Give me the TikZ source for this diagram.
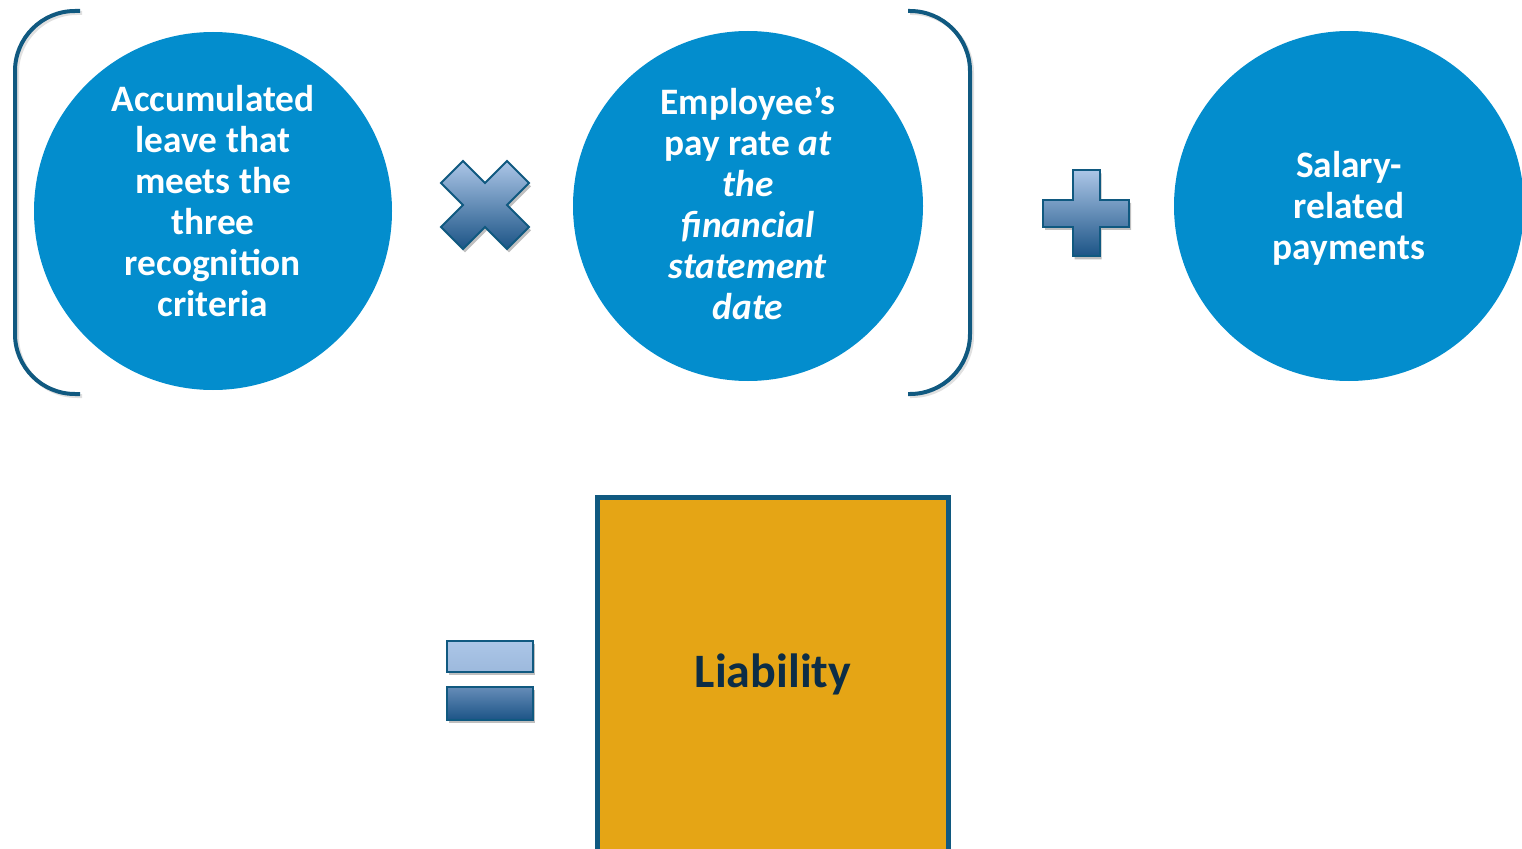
\documentclass[tikz,border=0pt]{standalone}
\usepackage{fontspec}
\setmainfont{Carlito}
\usetikzlibrary{shadows}

\definecolor{bubbleblue}{RGB}{3,141,205}
\definecolor{edgeblue}{RGB}{16,89,128}
\definecolor{signtop}{RGB}{172,198,231}
\definecolor{signmid}{RGB}{120,154,196}
\definecolor{signbot}{RGB}{28,84,134}
\definecolor{gold}{RGB}{229,165,21}
\definecolor{navy}{RGB}{12,45,70}

\tikzset{
  bubble/.style={circle,fill=bubbleblue,inner sep=0pt},
  bubbletext/.style={text=white,align=center,inner sep=0pt,
    font=\bfseries\fontsize{28}{30.75}\selectfont},
  brace/.style={draw=edgeblue,line width=3pt,rounded corners=45pt},
  braceshade/.style={draw=black,opacity=.12,line width=3pt,rounded corners=45pt},
  sign/.style={draw=edgeblue,line width=1.5pt,line join=miter,
    drop shadow={shadow xshift=1.5pt,shadow yshift=-2.5pt,opacity=.25,fill=black}},
  result/.style={rectangle,fill=gold,draw=edgeblue,line width=3.75pt,
    minimum width=263.25pt,minimum height=265.5pt,text=navy,
    font=\bfseries\fontsize{36}{40}\selectfont}
}

\begin{document}
\begin{tikzpicture}[x=0.75pt,y=-0.75pt]
\useasboundingbox (0,0) rectangle (1522,849);
\clip (0,0) rectangle (1522,849);

% the three amounts
\node[bubble,minimum size=268.5pt] (leave) at (213,211) {};
\node[bubble,minimum size=262.5pt] (rate) at (748,206) {};
\node[bubble,minimum size=262.5pt] (salary) at (1349,206) {};
\node[bubbletext] (leavetext) at ([yshift=7.5pt]leave.center)
  {Accumulated\\leave that\\meets the\\three\\recognition\\criteria};
\node[bubbletext] (ratetext) at ([yshift=1.5pt]rate.center)
  {Employee’s\\pay rate \textit{at}\\\textit{the}\\\textit{financial}\\\textit{statement}\\\textit{date}};
\node[bubbletext] (salarytext) at ([yshift=-1.5pt]salary.center) {Salary-\\related\\payments};

% brackets round the product
\draw[braceshade] (82,13) -- (17,13) -- (17,396) -- (82,396);
\draw[braceshade] (910,13) -- (972,13) -- (972,396) -- (910,396);
\draw[brace] (80,11) -- (15,11) -- (15,394) -- (80,394);
\draw[brace] (908,11) -- (970,11) -- (970,394) -- (908,394);

% operators
\coordinate (times) at (485,205);
\coordinate (plus) at (1086,213);
\coordinate (equals) at (490,680);

\shade[sign,top color=signtop,bottom color=signbot,shift={(times)}]
  (0,-22) -- (22,-44) -- (44,-22) -- (22,0) -- (44,22) -- (22,44) -- (0,22)
  -- (-22,44) -- (-44,22) -- (-22,0) -- (-44,-22) -- (-22,-44) -- cycle;

\shade[sign,top color=signtop,bottom color=signbot,shift={(plus)}]
  (-13.5,-43) -- (13.5,-43) -- (13.5,-13.5) -- (43,-13.5) -- (43,13.5)
  -- (13.5,13.5) -- (13.5,43) -- (-13.5,43) -- (-13.5,13.5) -- (-43,13.5)
  -- (-43,-13.5) -- (-13.5,-13.5) -- cycle;

\shade[sign,top color=signtop,bottom color=signtop!70!signmid,shift={(equals)}]
  (-43,-39) rectangle (43,-8);
\shade[sign,top color=signmid!80!signbot,bottom color=signbot,shift={(equals)}]
  (-43,7) rectangle (43,40);

% result
\node[result] (liability) at (773,674.5) {Liability};
\end{tikzpicture}
\end{document}
